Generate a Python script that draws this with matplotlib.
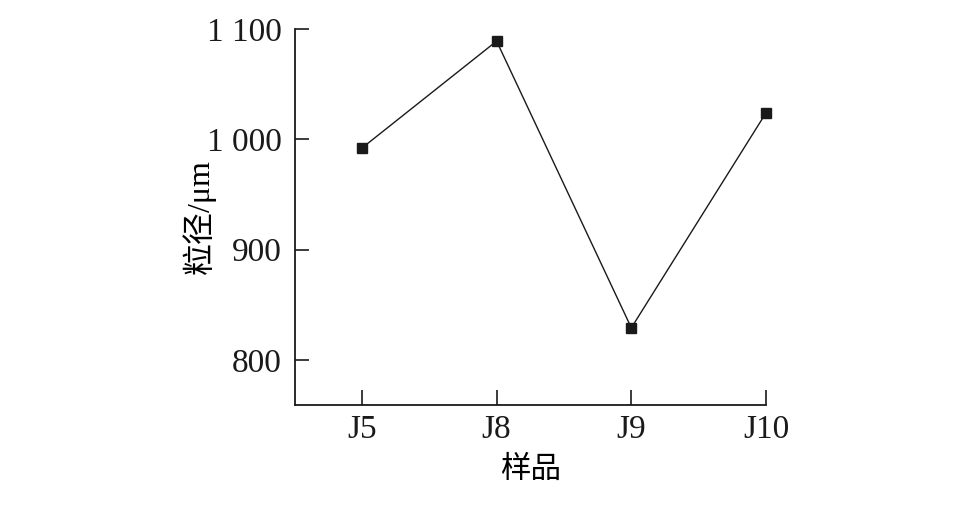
import matplotlib
matplotlib.use("Agg")
import matplotlib.pyplot as plt

# data
samples = ["J5", "J8", "J9", "J10"]
size_um = [992, 1089, 829, 1024]
y_ticks = [800, 900, 1000, 1100]
y_tick_labels = ["800", "900", "1 000", "1 100"]

fonts = ["Liberation Serif", "Noto Sans CJK SC"]
plt.rcParams["font.family"] = fonts

fig = plt.figure(figsize=(9.73, 5.30), dpi=100)
ax = fig.add_axes([0.3027, 0.2358, 0.4846, 0.7095])

x = list(range(len(samples)))
ax.plot(x, size_um, color="#1a1a1a", lw=1.0, marker="s", ms=7,
        markerfacecolor="#1a1a1a", markeredgecolor="#1a1a1a", clip_on=False)

ax.set_xlim(-0.5, 3)
ax.set_ylim(759, 1100)
ax.set_xticks(x)
ax.set_xticklabels(samples)
ax.set_yticks(y_ticks)
ax.set_yticklabels(y_tick_labels)

for side in ["top", "right"]:
    ax.spines[side].set_visible(False)
for side in ["left", "bottom"]:
    ax.spines[side].set_linewidth(1.3)
    ax.spines[side].set_color("#1a1a1a")

ax.tick_params(axis="both", direction="in", labelsize=24, colors="#1a1a1a", width=1.2)
ax.tick_params(axis="x", length=11, pad=7)
ax.tick_params(axis="y", length=10, pad=9)

ax.set_ylabel("粒径/μm", fontsize=23, labelpad=-6)
ax.set_xlabel("样品", fontsize=22, labelpad=8)

fig.savefig("out.png", dpi=100)
